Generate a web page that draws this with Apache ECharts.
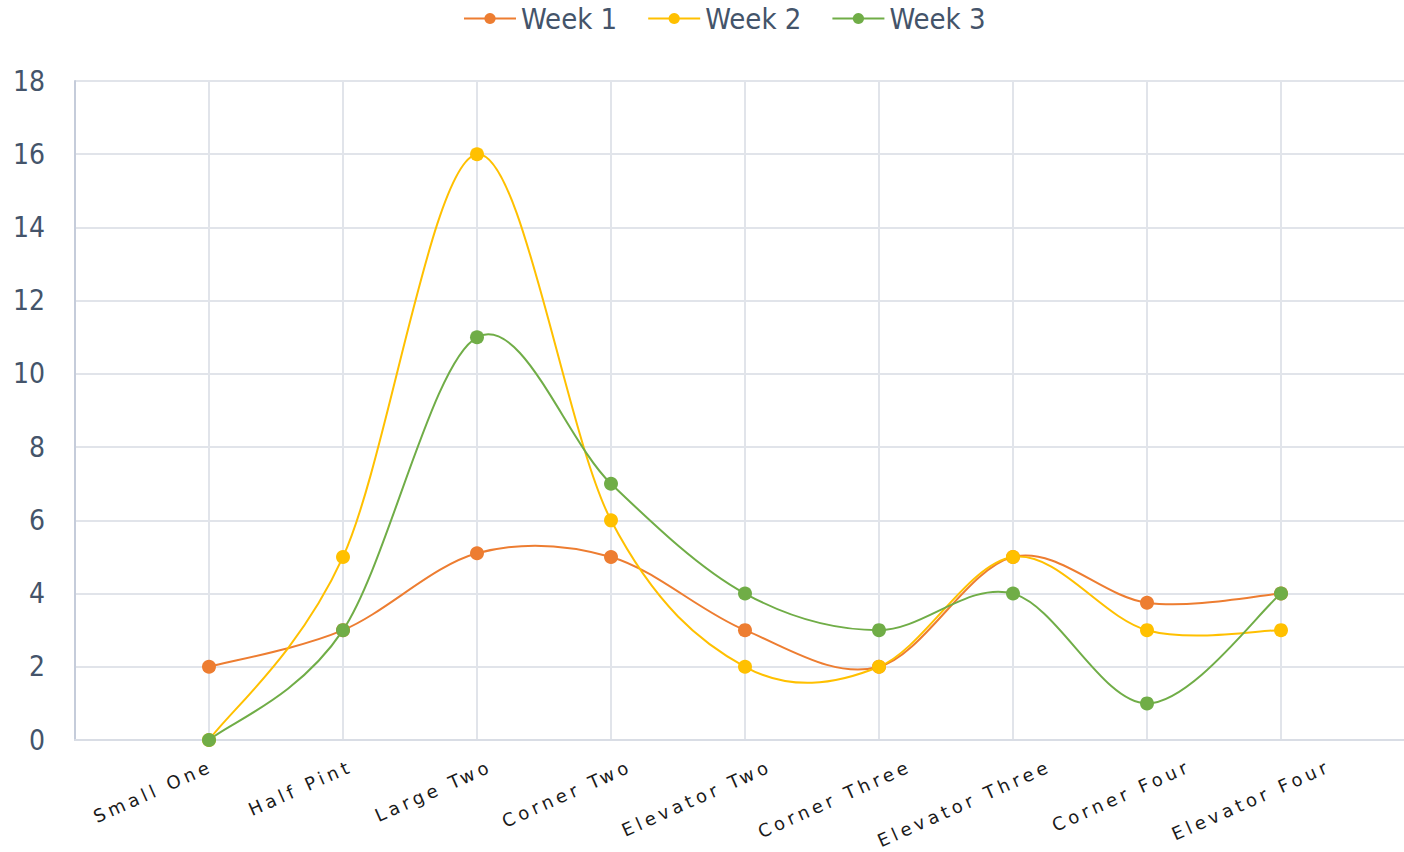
<!DOCTYPE html>
<html>
<head>
<meta charset="utf-8">
<script src="https://cdn.jsdelivr.net/npm/echarts@6/dist/echarts.min.js"></script>
<style>
  html, body { margin: 0; padding: 0; background: #fff; }
  #chart { width: 1404px; height: 852px; }
</style>
</head>
<body>
<div id="chart"></div>
<script>
  // 数据
  const categories = ['Small One', 'Half Pint', 'Large Two', 'Corner Two', 'Elevator Two',
    'Corner Three', 'Elevator Three', 'Corner Four', 'Elevator Four'];
  const week1 = [2, 3, 5.1, 5, 3, 2, 5, 3.75, 4];
  const week2 = [0, 5, 16, 6, 2, 2, 5, 3, 3];
  const week3 = [0, 3, 11, 7, 4, 3, 4, 1, 4];
  const yTicks = [0, 2, 4, 6, 8, 10, 12, 14, 16, 18];

  // 两端留空位，让第一个分类落在第二条竖线上
  const axisData = [''].concat(categories, ['']);
  const pad = arr => [null].concat(arr, [null]);

  const textColor = '#44546A';
  const numFont = '"DejaVu Sans Condensed", "Liberation Sans Narrow", "Noto Sans", sans-serif';
  const colors = ['#ED7D31', '#FFC000', '#70AD47'];

  // 点 + 图例（线本身由下面的自定义曲线画）
  function markerSeries(name, data, color) {
    return {
      name: name,
      type: 'line',
      data: pad(data),
      symbol: 'circle',
      symbolSize: 14,
      z: 3,
      itemStyle: { color: color },
      lineStyle: { color: color, width: 2, opacity: 0 }
    };
  }

  // 类似 Excel 的平滑曲线（Catmull-Rom 转贝塞尔）
  function curveSeries(data, color) {
    return {
      type: 'custom',
      silent: true,
      z: 2,
      data: data.map((v, i) => [i + 1, v]),
      encode: { x: 0, y: 1 },
      renderItem: function (params, api) {
        if (params.dataIndex !== 0) return null;
        const pts = data.map((v, i) => api.coord([i + 1, v]));
        const n = pts.length;
        let d = 'M' + pts[0][0] + ' ' + pts[0][1];
        for (let i = 0; i < n - 1; i++) {
          const p0 = pts[Math.max(i - 1, 0)];
          const p1 = pts[i];
          const p2 = pts[i + 1];
          const p3 = pts[Math.min(i + 2, n - 1)];
          const c1x = p1[0] + (p2[0] - p0[0]) / 6;
          const c1y = p1[1] + (p2[1] - p0[1]) / 6;
          const c2x = p2[0] - (p3[0] - p1[0]) / 6;
          const c2y = p2[1] - (p3[1] - p1[1]) / 6;
          d += ' C' + c1x + ' ' + c1y + ' ' + c2x + ' ' + c2y + ' ' + p2[0] + ' ' + p2[1];
        }
        return {
          type: 'path',
          shape: { pathData: d },
          style: { fill: 'none', stroke: color, lineWidth: 2 }
        };
      }
    };
  }

  const chart = echarts.init(document.getElementById('chart'), null, { renderer: 'svg' });
  chart.setOption({
    animation: false,
    legend: {
      data: ['Week 1', 'Week 2', 'Week 3'],
      top: -1,
      left: 458,
      itemWidth: 52,
      itemHeight: 14,
      itemGap: 30,
      lineStyle: { width: 2, opacity: 1 },
      textStyle: { color: textColor, fontSize: 29, fontFamily: numFont }
    },
    grid: [
      { left: 75, top: 81, width: 1340, height: 659, outerBoundsMode: 'none' },
      // 仅用来放x轴标签（原图标签间距略大于刻度间距）
      { left: 71.85, top: 81, width: 1397.5, height: 659, outerBoundsMode: 'none' }
    ],
    xAxis: [
      {
        type: 'category',
        data: axisData,
        boundaryGap: false,
        axisLine: { lineStyle: { color: '#D9DDE5', width: 2 } },
        axisTick: { show: false },
        axisLabel: { show: false },
        splitLine: { show: true, lineStyle: { color: '#E1E4EA', width: 2 } }
      },
      {
        type: 'category',
        gridIndex: 1,
        data: axisData,
        boundaryGap: false,
        axisLine: { show: false },
        axisTick: { show: false },
        splitLine: { show: false },
        axisLabel: {
          interval: 0,
          rotate: 24,
          margin: 25,
          color: '#1a1a1a',
          fontSize: 18,
          fontFamily: '"DejaVu Sans", sans-serif'
        }
      }
    ],
    yAxis: [
      {
        type: 'value',
        min: yTicks[0],
        max: yTicks[yTicks.length - 1],
        interval: 2,
        axisLine: { show: true, lineStyle: { color: '#C5CCDA', width: 2 } },
        axisTick: { show: false },
        splitLine: { lineStyle: { color: '#E1E4EA', width: 2 } },
        axisLabel: { color: textColor, fontSize: 28, margin: 30, fontFamily: numFont }
      },
      { type: 'value', gridIndex: 1, show: false }
    ],
    series: [
      curveSeries(week1, colors[0]),
      curveSeries(week2, colors[1]),
      curveSeries(week3, colors[2]),
      markerSeries('Week 1', week1, colors[0]),
      markerSeries('Week 2', week2, colors[1]),
      markerSeries('Week 3', week3, colors[2])
    ]
  });

  // x轴标签加字距
  document.querySelectorAll('#chart text').forEach(t => {
    if (categories.indexOf(t.textContent) >= 0) {
      t.style.letterSpacing = '4px';
    }
  });
</script>
</body>
</html>
